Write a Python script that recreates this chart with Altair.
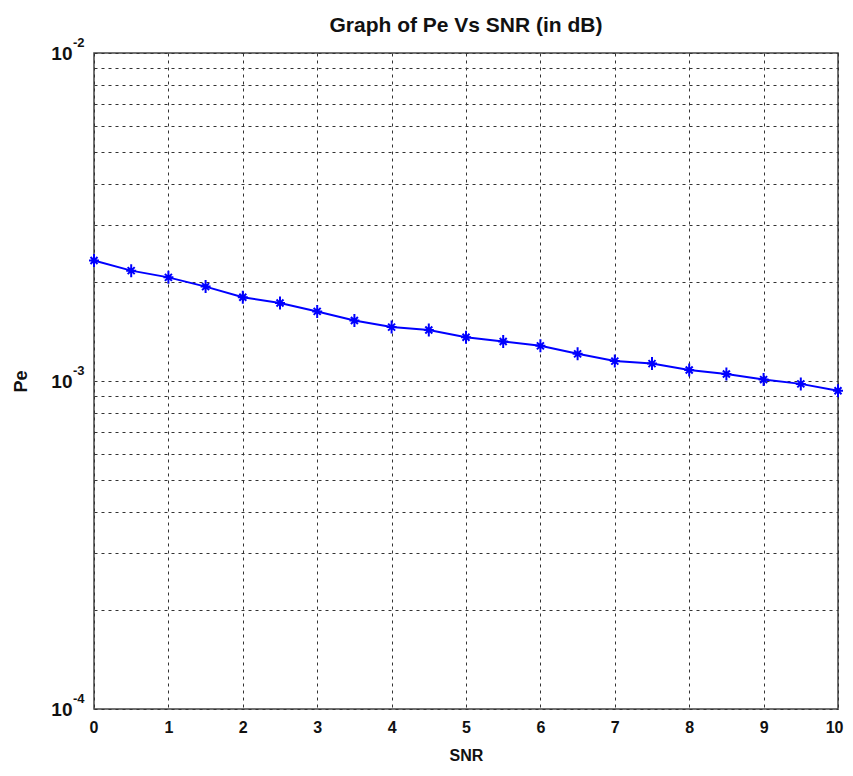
import altair as alt
import pandas as pd

snr = [0, 0.5, 1, 1.5, 2, 2.5, 3, 3.5, 4, 4.5, 5, 5.5, 6, 6.5, 7, 7.5, 8, 8.5, 9, 9.5, 10]
pe = [2.33e-3, 2.17e-3, 2.07e-3, 1.94e-3, 1.80e-3, 1.73e-3, 1.63e-3, 1.53e-3, 1.46e-3, 1.43e-3,
      1.36e-3, 1.32e-3, 1.28e-3, 1.21e-3, 1.15e-3, 1.13e-3, 1.08e-3, 1.05e-3, 1.01e-3, 0.98e-3, 0.934e-3]

x_ticks = list(range(0, 11))
y_grid = [1e-4, 2e-4, 3e-4, 4e-4, 5e-4, 6e-4, 7e-4, 8e-4, 9e-4,
          1e-3, 2e-3, 3e-3, 4e-3, 5e-3, 6e-3, 7e-3, 8e-3, 9e-3, 1e-2]
decades = [1e-4, 1e-3, 1e-2]
exponents = ["-4", "-3", "-2"]

df = pd.DataFrame({"SNR": snr, "Pe": pe})
df_exp = pd.DataFrame({"SNR": [0, 0, 0], "Pe": decades, "exp": exponents})

FONT = "Liberation Sans"

x_scale = alt.Scale(domain=[0, 10], nice=False, zero=False)
y_scale = alt.Scale(type="log", domain=[1e-4, 1e-2], nice=False)

x_enc = alt.X("SNR:Q", title="SNR", scale=x_scale,
              axis=alt.Axis(values=x_ticks, format="d", ticks=False, domain=False,
                            labelFlush=True, labelFlushOffset=5,
                            grid=True, gridColor="#333", gridDash=[3, 4], gridWidth=1,
                            labelFont=FONT, labelFontWeight="bold", labelFontSize=16,
                            labelColor="#111", labelPadding=10,
                            titleFont=FONT, titleFontWeight="bold", titleFontSize=16,
                            titleColor="#111", titlePadding=12))

y_enc = alt.Y("Pe:Q", title="Pe", scale=y_scale,
              axis=alt.Axis(values=y_grid, ticks=False, domain=False, labelOverlap=False,
                            labelExpr="(datum.value == 0.01 || datum.value == 0.001 || datum.value == 0.0001) ? '10' : ''",
                            grid=True, gridColor="#333", gridDash=[3, 4], gridWidth=1,
                            labelFont=FONT, labelFontWeight="bold", labelFontSize=19,
                            labelColor="#111", labelPadding=22,
                            titleFont=FONT, titleFontWeight="bold", titleFontSize=18,
                            titleColor="#111", titlePadding=20))

base = alt.Chart(df).encode(x=x_enc, y=y_enc)

line = base.mark_line(color="#0000ff", strokeWidth=2, clip=False)
pts = base.mark_point(
    shape="M-1,0L1,0M0,-1.3L0,1.3M-0.7,-0.7L0.7,0.7M-0.7,0.7L0.7,-0.7",
    color="#0000ff", size=100, strokeWidth=2, filled=False, opacity=1, clip=False)

exp_text = alt.Chart(df_exp).mark_text(
    font=FONT, fontWeight="bold", fontSize=13, color="#111",
    align="left", baseline="middle", dx=-21, dy=-10, clip=False
).encode(
    x=alt.X("SNR:Q", scale=x_scale),
    y=alt.Y("Pe:Q", scale=y_scale),
    text="exp:N",
)

chart = alt.layer(line, pts, exp_text).properties(
    width=744, height=656,
    title=alt.TitleParams("Graph of Pe Vs SNR (in dB)", font=FONT, fontWeight="bold",
                          fontSize=21, color="#111", offset=1),
    autosize=alt.AutoSizeParams(type="none"),
    padding={"left": 86, "top": 45, "right": 7, "bottom": 58},
).configure_view(stroke="#444", strokeWidth=1.5)

chart.save("out.html", embed_options={"renderer": "svg", "actions": False})
